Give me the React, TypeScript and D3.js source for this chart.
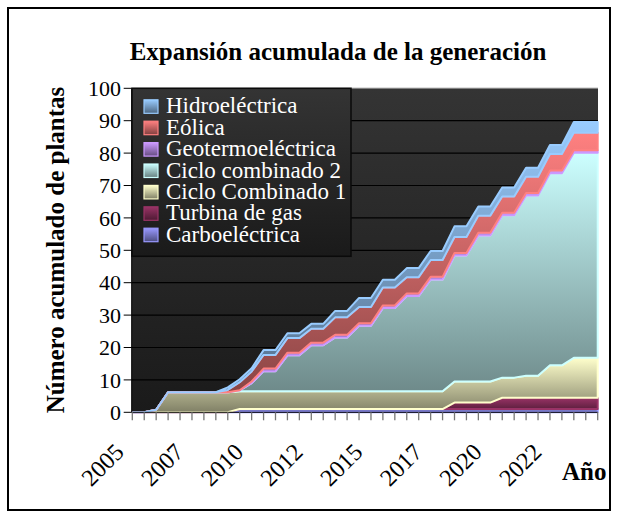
import React from "react";
import * as d3 from "d3";

// half-year periods
const periods = [
  2005, 2005.5, 2006, 2006.5, 2007, 2007.5, 2008, 2008.5, 2009, 2009.5,
  2010, 2010.5, 2011, 2011.5, 2012, 2012.5, 2013, 2013.5, 2014, 2014.5,
  2015, 2015.5, 2016, 2016.5, 2017, 2017.5, 2018, 2018.5, 2019, 2019.5,
  2020, 2020.5, 2021, 2021.5, 2022, 2022.5, 2023, 2023.5, 2024, 2024.5,
];
const xTickLabels = ["2005", "2007", "2010", "2012", "2015", "2017", "2020", "2022"];
const yTicks = [0, 10, 20, 30, 40, 50, 60, 70, 80, 90, 100];

const carboelectrica = [
  0, 0, 0, 0, 0, 0, 0, 0, 0, 1,
  1, 1, 1, 1, 1, 1, 1, 1, 1, 1,
  1, 1, 1, 1, 1, 1, 1, 1, 1, 1,
  1, 1, 1, 1, 1, 1, 1, 1, 1, 1,
];
const turbinaGas = [
  0, 0, 0, 0, 0, 0, 0, 0, 0, 0,
  0, 0, 0, 0, 0, 0, 0, 0, 0, 0,
  0, 0, 0, 0, 0, 0, 0, 2, 2, 2,
  2, 3.5, 3.5, 3.5, 3.5, 3.5, 3.5, 3.5, 3.5, 3.5,
];
const cicloCombinado1 = [
  0, 0, 0.8, 6.2, 6.2, 6.2, 6.2, 6.2, 6.2, 5.5,
  5.5, 5.5, 5.5, 5.5, 5.5, 5.5, 5.5, 5.5, 5.5, 5.5,
  5.5, 5.5, 5.5, 5.5, 5.5, 5.5, 5.5, 6.5, 6.5, 6.5,
  6.5, 6.2, 6.2, 6.8, 6.8, 10, 10, 12.3, 12.3, 12.3,
];
const cicloCombinado2 = [
  0, 0, 0, 0, 0, 0, 0, 0, 0, 0.3,
  2.5, 6.2, 6.2, 11.1, 11.1, 14.2, 14.2, 16.6, 16.6, 20.2,
  20.2, 25.7, 25.7, 29.4, 29.4, 34.5, 34.5, 38.9, 38.9, 45.1,
  45.1, 50.1, 50.1, 55.6, 55.6, 59.3, 59.3, 63.3, 63.3, 63.3,
];
const geotermoelectrica = [
  0, 0, 0, 0, 0, 0, 0, 0, 0, 0,
  0.5, 0.8, 0.8, 0.8, 0.8, 0.8, 0.8, 0.8, 0.8, 0.8,
  0.8, 0.8, 0.8, 0.8, 0.8, 0.8, 0.8, 0.8, 0.8, 0.8,
  0.8, 0.8, 0.8, 0.8, 0.8, 0.8, 0.8, 0.8, 0.8, 0.8,
];
const eolica = [
  0, 0, 0, 0, 0, 0, 0, 0, 0.7, 2.5,
  3.1, 4.2, 4.2, 4.5, 4.5, 4.3, 4.3, 5.4, 5.4, 5,
  5, 5.5, 5.5, 5, 5, 5.2, 5.2, 4.9, 4.9, 5.3,
  5.3, 5, 5, 5, 5, 5.1, 5.1, 5.4, 5.4, 5.4,
];
const hidroelectrica = [
  0, 0, 0, 0, 0, 0, 0, 0, 0.8, 0.9,
  1.0, 1.5, 1.5, 1.5, 1.5, 1.5, 1.5, 2, 2, 2.8,
  2.8, 2.4, 2.4, 2.8, 2.8, 2.8, 2.8, 3.3, 3.3, 2.8,
  2.8, 2.8, 2.8, 2.8, 2.8, 2.8, 2.8, 3.3, 3.3, 3.3,
];

const seriesKeys = ["carbo", "turbina", "cc1", "cc2", "geo", "eolica", "hidro"];
const seriesNames = [
  "Carboeléctrica",
  "Turbina de gas",
  "Ciclo Combinado 1",
  "Ciclo combinado 2",
  "Geotermoeléctrica",
  "Eólica",
  "Hidroeléctrica",
];
const seriesColors = ["#9999FF", "#993366", "#FFFFCC", "#CCFFFF", "#CC99FF", "#FF8080", "#99CCFF"];
const seriesValues = [
  carboelectrica,
  turbinaGas,
  cicloCombinado1,
  cicloCombinado2,
  geotermoelectrica,
  eolica,
  hidroelectrica,
];

const FONT = "'Liberation Serif', 'Times New Roman', serif";

export default function App() {
  const W = 618;
  const H = 517;
  const plotLeft = 131.7;
  const plotRight = 598;
  const plotTop = 88.3;
  const plotBottom = 412.3;

  const x = d3.scaleLinear().domain([0, periods.length - 1]).range([132.3, 597.7]);
  const y = d3.scaleLinear().domain([0, 100]).range([plotBottom, plotTop]);

  const rows = periods.map((p, i) => {
    const r: any = { i, period: p };
    seriesKeys.forEach((k, s) => (r[k] = seriesValues[s][i]));
    return r;
  });
  const stacked = d3.stack<any>().keys(seriesKeys)(rows);
  const area = d3
    .area<any>()
    .x((d) => x(d.data.i))
    .y0((d) => y(d[0]))
    .y1((d) => y(d[1]));

  const dark = (c: string) => d3.interpolateRgb(c, "#000")(0.5);

  const legendX = 132;
  const legendY = 88.3;
  const legendW = 219;
  const legendH = 168;
  const legendOrder = [...seriesKeys.keys()].reverse();

  return (
    <svg
      width={W}
      height={H}
      style={{ position: "absolute", left: 0, top: 0, background: "#fff" }}
      fontFamily={FONT}
    >
      <defs>
        <linearGradient id="plotBg" x1="0" y1="0" x2="0" y2="1">
          <stop offset="0" stopColor="#343434" />
          <stop offset="1" stopColor="#1a1a1a" />
        </linearGradient>
        {seriesColors.map((c, s) => (
          <linearGradient key={s} id={`g${s}`} x1="0" y1="0" x2="0" y2="1">
            <stop offset="0" stopColor={c} />
            <stop offset="1" stopColor={dark(c)} />
          </linearGradient>
        ))}
      </defs>

      <rect x={8} y={8} width={602} height={502} fill="#fff" stroke="#000" strokeWidth={2} />

      <text
        x={338}
        y={60}
        textAnchor="middle"
        fontWeight="bold"
        fontSize={25}
        fill="#000"
      >
        Expansión acumulada de la generación
      </text>

      {/* plot background */}
      <rect
        x={plotLeft}
        y={plotTop}
        width={plotRight - plotLeft}
        height={plotBottom - plotTop}
        fill="url(#plotBg)"
      />
      {yTicks
        .filter((t) => t > 0)
        .map((t) => (
          <line
            key={t}
            x1={plotLeft}
            x2={plotRight}
            y1={y(t)}
            y2={y(t)}
            stroke={t === 100 ? "#808080" : "#000"}
            strokeWidth={1.2}
          />
        ))}

      {/* stacked areas */}
      {stacked.map((layer, s) => (
        <path
          key={s}
          d={area(layer) || ""}
          fill={`url(#g${s})`}
          stroke={seriesColors[s]}
          strokeWidth={2}
          strokeLinejoin="round"
        />
      ))}

      {/* axes */}
      <line x1={plotLeft} x2={plotLeft} y1={plotTop} y2={plotBottom} stroke="#000" strokeWidth={1} />
      <line x1={plotLeft} x2={plotRight} y1={plotBottom} y2={plotBottom} stroke="#000" strokeWidth={1} />
      {yTicks.map((t) => (
        <g key={t}>
          <line x1={plotLeft - 8} x2={plotLeft} y1={y(t)} y2={y(t)} stroke="#000" strokeWidth={1} />
          <text
            x={121}
            y={y(t)}
            dy="0.35em"
            textAnchor="end"
            fontSize={22}
            fill="#000"
          >
            {t}
          </text>
        </g>
      ))}
      {periods.map((p, i) => (
        <line
          key={i}
          x1={x(i)}
          x2={x(i)}
          y1={plotBottom}
          y2={plotBottom + 8}
          stroke="#777"
          strokeWidth={1.3}
        />
      ))}
      {xTickLabels.map((lab, k) => {
        const px = x(k * 5) - 7;
        const py = 453.5;
        return (
          <text
            key={lab + k}
            transform={`translate(${px},${py}) rotate(-45)`}
            textAnchor="end"
            fontSize={24}
            fill="#000"
          >
            {lab}
          </text>
        );
      })}

      <text x={562} y={480} fontWeight="bold" fontSize={25} fill="#000">
        Año
      </text>
      <text
        transform={`translate(64,250) rotate(-90)`}
        textAnchor="middle"
        fontWeight="bold"
        fontSize={25}
        fill="#000"
      >
        Número acumulado de plantas
      </text>

      {/* legend */}
      <rect
        x={legendX}
        y={legendY}
        width={legendW}
        height={legendH}
        fill="url(#plotBg)"
        stroke="#0a0a0a"
        strokeWidth={1.5}
      />
      {legendOrder.map((s, row) => {
        const base = 113.3 + row * 21.4;
        return (
          <g key={s}>
            <rect
              x={144}
              y={base - 13.5}
              width={14}
              height={13.5}
              fill={`url(#g${s})`}
              stroke={seriesColors[s]}
              strokeWidth={1.2}
            />
            <text x={166} y={base} fontSize={23} fill="#fff">
              {seriesNames[s]}
            </text>
          </g>
        );
      })}
    </svg>
  );
}
